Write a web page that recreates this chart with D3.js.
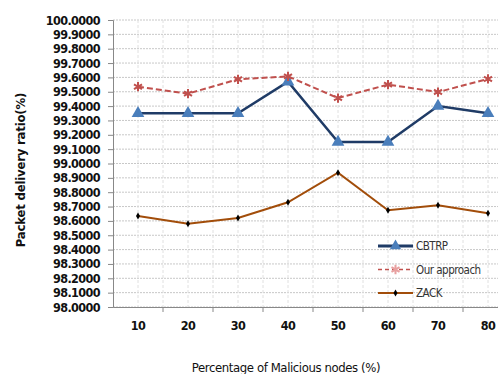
<!DOCTYPE html>
<html>
<head>
<meta charset="utf-8">
<script src="https://cdn.jsdelivr.net/npm/d3@7/dist/d3.min.js"></script>
<style>
  body { margin: 0; background: #fff; }
  svg { display: block; }
  .tick text { font-family: "DejaVu Sans Condensed", "DejaVu Sans", sans-serif; font-weight: bold; }
</style>
</head>
<body>
<div id="chart"></div>
<script>
// chart data
const categories = ["10", "20", "30", "40", "50", "60", "70", "80"];
const cbtrp = [99.35, 99.35, 99.35, 99.57, 99.15, 99.15, 99.40, 99.35];
const ourApproach = [99.535, 99.487, 99.587, 99.607, 99.456, 99.55, 99.498, 99.589];
const zack = [98.634, 98.58, 98.62, 98.73, 98.936, 98.674, 98.709, 98.653];
const yTicks = d3.range(98.0, 100.0001, 0.1).map(v => +v.toFixed(1));

const W = 498, H = 374;
const margin = { left: 113, top: 20, bottom: 67 };

const svg = d3.select("#chart").append("svg")
    .attr("width", W).attr("height", H);

// scales
const x = d3.scaleBand().domain(categories).range([margin.left, margin.left + 400]);
const y = d3.scaleLinear().domain([98, 100]).range([H - margin.bottom, margin.top]);
const cx = d => x(d) + x.bandwidth() / 2;

// grid
const grid = svg.append("g");
grid.selectAll("line.h").data(yTicks).join("line")
    .attr("x1", margin.left).attr("x2", W)
    .attr("y1", d => y(d)).attr("y2", d => y(d))
    .attr("stroke", "#c8c8c8").attr("stroke-width", 1)
    .attr("stroke-dasharray", "2,1");
const vx = [];
categories.forEach(c => { vx.push(cx(c)); vx.push(x(c) + x.bandwidth()); });
grid.selectAll("line.v").data(vx).join("line")
    .attr("x1", d => d).attr("x2", d => d)
    .attr("y1", y(100)).attr("y2", y(98))
    .attr("stroke", "#e0e0e0").attr("stroke-width", 1)
    .attr("stroke-dasharray", "3,2");

// axes
const yAxis = svg.append("g")
    .attr("transform", `translate(${margin.left},0)`)
    .call(d3.axisLeft(y).tickValues(yTicks).tickFormat(d3.format(".4f")).tickSize(5).tickPadding(8));
yAxis.selectAll("text").attr("font-size", 12.5).attr("fill", "#111").attr("letter-spacing", "-0.6");

const xAxis = svg.append("g")
    .attr("transform", `translate(0,${y(98)})`)
    .call(d3.axisBottom(x).tickSize(0).tickPadding(14));
xAxis.selectAll("text").attr("font-size", 12.5).attr("fill", "#111").attr("letter-spacing", "-0.6");
// band boundary ticks
xAxis.selectAll("line.bt").data(categories).join("line")
    .attr("class", "bt")
    .attr("x1", d => x(d) + x.bandwidth()).attr("x2", d => x(d) + x.bandwidth())
    .attr("y1", 0).attr("y2", 5)
    .attr("stroke", "#888");
svg.selectAll(".domain").attr("stroke", "#888");
svg.selectAll(".tick line").attr("stroke", "#888");

// series
const series = [
  { name: "CBTRP", values: cbtrp, color: "#1f3b66", width: 2.5, dash: null, marker: "tri" },
  { name: "Our approach", values: ourApproach, color: "#c0504d", width: 2, dash: "6,3", marker: "star" },
  { name: "ZACK", values: zack, color: "#a24d0a", width: 2, dash: null, marker: "dot" }
];

const line = d3.line().x(d => cx(d.c)).y(d => y(d.v));

function drawMarker(g, type, px, py, legend) {
  if (type === "tri") {
    g.append("path")
      .attr("d", d3.symbol(d3.symbolTriangle, legend ? 55 : 70)())
      .attr("transform", `translate(${px},${py})`)
      .attr("fill", "#4a7ebb");
  } else if (type === "star") {
    const c = legend ? "#e8a0a0" : "#c0504d";
    g.append("path")
      .attr("d", d3.symbol(d3.symbolAsterisk, 60)())
      .attr("transform", `translate(${px},${py})`)
      .attr("stroke", c).attr("stroke-width", 2).attr("fill", "none");
    g.append("path")
      .attr("d", d3.symbol(d3.symbolTimes, 40)())
      .attr("transform", `translate(${px},${py})`)
      .attr("fill", c);
  } else {
    g.append("path")
      .attr("d", d3.symbol(d3.symbolDiamond, 14)())
      .attr("transform", `translate(${px},${py})`)
      .attr("fill", "#000");
  }
}

series.forEach(s => {
  const pts = categories.map((c, i) => ({ c, v: s.values[i] }));
  const g = svg.append("g");
  g.append("path").datum(pts)
    .attr("d", line)
    .attr("fill", "none")
    .attr("stroke", s.color)
    .attr("stroke-width", s.width)
    .attr("stroke-dasharray", s.dash);
  pts.forEach(p => drawMarker(g, s.marker, cx(p.c), y(p.v), false));
});

// legend
const legend = svg.append("g").attr("transform", "translate(378,246)");
series.forEach((s, i) => {
  const g = legend.append("g").attr("transform", `translate(0,${i * 23.5})`);
  g.append("line").attr("x1", 0).attr("x2", 35).attr("y1", 0).attr("y2", 0)
    .attr("stroke", s.color)
    .attr("stroke-width", s.marker === "star" ? 1.5 : (s.marker === "tri" ? 3 : 2))
    .attr("stroke-dasharray", s.marker === "star" ? "4,3" : null);
  drawMarker(g, s.marker, 17.5, 0, true);
  g.append("text").attr("x", 38).attr("y", 4)
    .attr("font-family", "'DejaVu Sans Condensed', sans-serif")
    .attr("font-size", 11.5).attr("fill", "#333")
    .attr("letter-spacing", "-0.5")
    .text(s.name);
});

// axis titles
svg.append("text")
  .attr("x", 286).attr("y", 372)
  .attr("text-anchor", "middle")
  .attr("font-family", "'DejaVu Sans Condensed', sans-serif")
  .attr("font-size", 13).attr("fill", "#111")
  .attr("letter-spacing", "-0.4")
  .text("Percentage of Malicious nodes (%)");
svg.append("text")
  .attr("transform", "translate(25,170) rotate(-90)")
  .attr("text-anchor", "middle")
  .attr("font-family", "'DejaVu Sans Condensed', sans-serif")
  .attr("font-weight", "bold")
  .attr("font-size", 13).attr("fill", "#111")
  .attr("letter-spacing", "-0.2")
  .text("Packet delivery ratio(%)");
</script>
</body>
</html>
